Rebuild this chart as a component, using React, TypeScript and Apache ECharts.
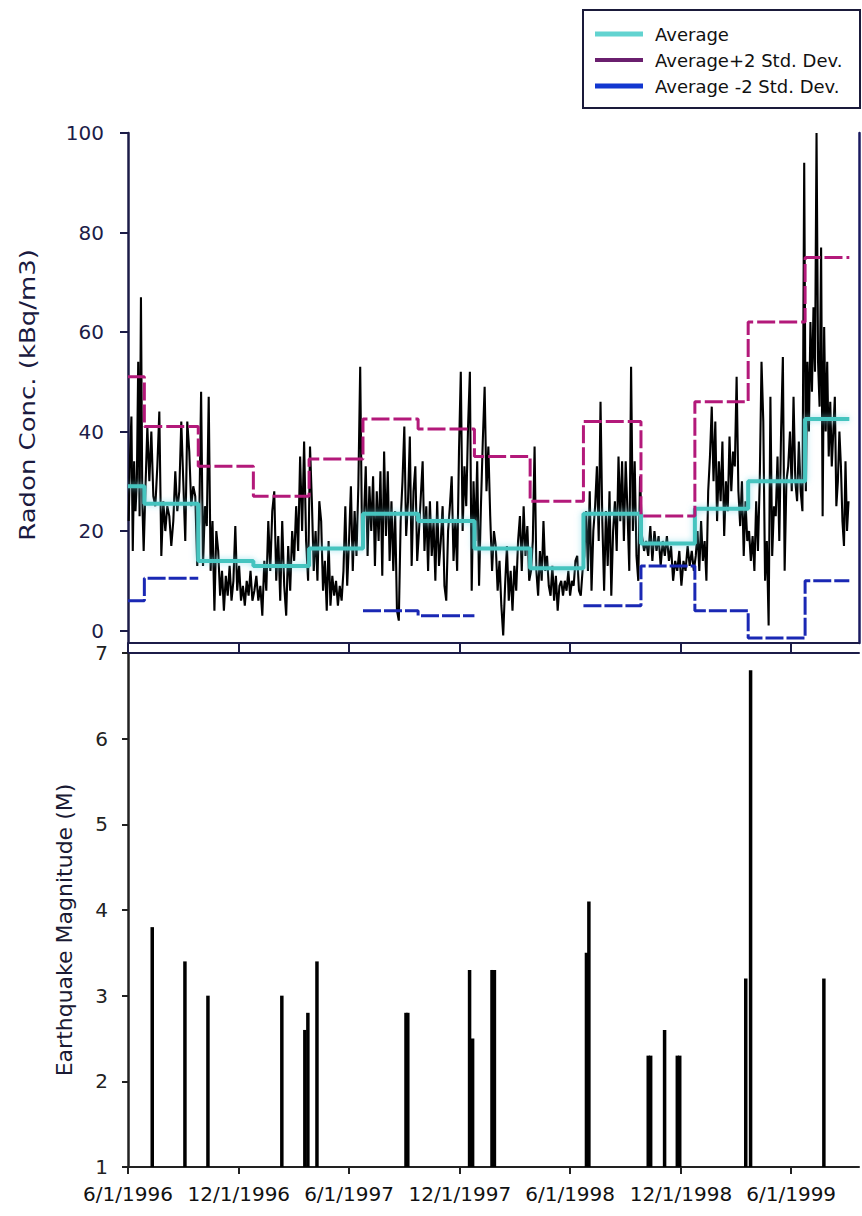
import React, { useEffect, useRef } from "react";
import * as echarts from "echarts";

// ---------- data ----------
// season segment boundaries (start dates) and final end date
const segStarts = [
  "1996-06-01", "1996-06-28", "1996-09-25", "1996-12-25", "1997-03-27", "1997-06-24", "1997-09-23",
  "1997-12-25", "1998-03-27", "1998-06-23", "1998-09-26", "1998-12-24", "1999-03-22", "1999-06-24",
];
const segEnd = "1999-09-05";

const averageVals = [29, 25.5, 14, 13, 16.5, 23.5, 22, 16.5, 12.5, 23.5, 17.5, 24.5, 30, 42.5];
const plus2SdVals = [51, 41, 33, 27, 34.5, 42.5, 40.5, 35, 26, 42, 23, 46, 62, 75];
const minus2SdVals: (number | null)[] = [6, 10.5, null, null, null, 4, 3, null, null, 5, 13, 4, -1.5, 10];

// radon concentration readings, one list per segment
const radonSeg1 = [22, 35, 43, 16, 34, 24, 30, 54, 23, 67, 26, 16];
const radonSeg2 = [28, 41, 30, 40, 27, 25, 33, 44, 15, 26, 20, 25, 23, 17, 22, 32, 24, 28, 42, 30, 18, 42, 36, 25, 29, 27, 13];
const radonSeg3 = [22, 48, 13, 25, 21, 47, 12, 22, 4, 20, 16, 7, 12, 4, 11, 7, 13, 6, 10, 21, 8, 13, 6, 9, 5, 10, 7, 12, 6];
const radonSeg4 = [8, 11, 6, 9, 3, 14, 8, 22, 12, 24, 28, 10, 19, 6, 22, 9, 3, 17, 8, 20, 14, 25, 16, 35, 20, 38, 18, 10];
const radonSeg5 = [37, 26, 12, 20, 10, 26, 22, 8, 14, 4, 18, 5, 11, 7, 10, 5, 9, 6, 12, 25, 9, 18, 29, 12, 24, 15, 29, 53, 18];
const radonSeg6 = [22, 33, 15, 29, 20, 31, 13, 28, 18, 32, 11, 36, 19, 32, 14, 26, 12, 24, 4, 2, 22, 30, 41, 19, 26, 39, 13, 28, 33, 14];
const radonSeg7 = [20, 27, 34, 16, 25, 12, 26, 15, 22, 10, 26, 13, 18, 25, 9, 6, 20, 25, 31, 14, 22, 12, 36, 52, 20, 33, 25, 41, 52, 8, 30];
const radonSeg8 = [18, 34, 9, 25, 38, 49, 28, 37, 23, 12, 20, 17, 8, 14, 5, -1, 9, 17, 6, 12, 4, 13, 8, 18, 23, 12, 25, 15, 21, 10];
const radonSeg9 = [12, 18, 37, 12, 7, 16, 10, 22, 12, 15, 9, 7, 13, 6, 11, 4, 9, 10, 7, 10, 8, 12, 7, 10, 9, 14, 15, 8, 7, 12];
const radonSeg10 = [15, 24, 12, 28, 8, 20, 25, 33, 18, 46, 22, 8, 24, 13, 28, 7, 20, 26, 16, 35, 22, 34, 18, 34, 24, 12, 53, 20, 34, 15, 10, 31];
const radonSeg11 = [19, 16, 18, 15, 21, 14, 20, 16, 19, 13, 18, 15, 19, 14, 17, 10, 14, 12, 16, 9, 14, 12, 17, 13, 16, 12];
const radonSeg12 = [15, 20, 12, 22, 14, 18, 10, 28, 35, 45, 30, 42, 22, 34, 26, 38, 19, 30, 24, 39, 28, 36, 33, 51, 28, 21, 30, 15, 26, 18];
const radonSeg13 = [20, 14, 19, 12, 26, 16, 30, 54, 42, 10, 18, 1, 47, 15, 25, 23, 35, 18, 40, 55, 12, 30, 33, 40, 28, 47, 30, 26, 38, 28, 24, 94];
const radonSeg14 = [28, 54, 40, 62, 48, 65, 52, 100, 54, 45, 77, 23, 61, 40, 54, 35, 46, 33, 40, 47, 25, 30, 40, 33, 22, 17, 34, 20, 26];
const radonBySeg = [
  radonSeg1, radonSeg2, radonSeg3, radonSeg4, radonSeg5, radonSeg6, radonSeg7,
  radonSeg8, radonSeg9, radonSeg10, radonSeg11, radonSeg12, radonSeg13, radonSeg14,
];

// earthquakes
const quakeDates = [
  "1996-07-11", "1996-09-03", "1996-10-11", "1997-02-10", "1997-03-20", "1997-03-25", "1997-04-09",
  "1997-09-03", "1997-09-06", "1997-12-17", "1997-12-22", "1998-01-23", "1998-01-27", "1998-06-28",
  "1998-07-02", "1998-10-08", "1998-10-12", "1998-11-04", "1998-11-25", "1998-11-29", "1999-03-18",
  "1999-03-26", "1999-07-25",
];
const quakeMagnitudes = [3.8, 3.4, 3.0, 3.0, 2.6, 2.8, 3.4, 2.8, 2.8, 3.3, 2.5, 3.3, 3.3, 3.5, 4.1, 2.3, 2.3, 2.6, 2.3, 2.3, 3.2, 6.8, 3.2];

const xTickDates = ["1996-06-01", "1996-12-01", "1997-06-01", "1997-12-01", "1998-06-01", "1998-12-01", "1999-06-01"];
const xMinDate = "1996-06-01";
const xMaxDate = "1999-09-21";
const radonTicks = [0, 20, 40, 60, 80, 100];

// ---------- helpers ----------
const t = (s: string) => {
  const [y, m, d] = s.split("-").map(Number);
  return Date.UTC(y, m - 1, d);
};
const fmtDate = (v: number) => {
  const d = new Date(v);
  return `${d.getUTCMonth() + 1}/${d.getUTCDate()}/${d.getUTCFullYear()}`;
};
const segBounds = segStarts.map((s, i) => [t(s), t(i + 1 < segStarts.length ? segStarts[i + 1] : segEnd)]);

const stepData = (vals: (number | null)[]) => {
  const out: any[] = [];
  vals.forEach((v, i) => {
    const [a, b] = segBounds[i];
    if (v === null) {
      out.push([a, "-"]);
    } else {
      out.push([a, v]);
      out.push([b, v]);
    }
  });
  return out;
};

const radonData: any[] = [];
radonBySeg.forEach((vals, i) => {
  const [a, b] = segBounds[i];
  const n = vals.length;
  vals.forEach((v, k) => radonData.push([a + ((k + 0.5) * (b - a)) / n, v]));
});

const quakeData = quakeDates.map((d, i) => [t(d), quakeMagnitudes[i]]);

const FONT = "DejaVu Sans";
const NAVY = "#1c1c48";

export default function App() {
  const ref = useRef<HTMLDivElement>(null);
  useEffect(() => {
    if (!ref.current) return;
    const chart = echarts.init(ref.current, null, { renderer: "svg" });
    const xCommon = {
      type: "value" as const,
      min: t(xMinDate),
      max: t(xMaxDate),
      splitLine: { show: false },
    };
    const tickVals = xTickDates.map(t);
    chart.setOption({
      animation: false,
      backgroundColor: "#ffffff",
      grid: [
        { left: 128, top: 133, width: 731, height: 510 },
        { left: 128, top: 653, width: 731, height: 514 },
      ],
      xAxis: [
        {
          ...xCommon,
          gridIndex: 0,
          position: "bottom",
          axisLine: { show: true, onZero: false, lineStyle: { color: NAVY, width: 2 } },
          axisTick: { show: true, customValues: tickVals, length: 10, lineStyle: { color: NAVY, width: 2 } },
          axisLabel: { show: false },
        },
        {
          ...xCommon,
          gridIndex: 1,
          position: "bottom",
          axisLine: { show: true, onZero: false, lineStyle: { color: "#222", width: 2 } },
          axisTick: { show: true, customValues: tickVals, length: 7, lineStyle: { color: "#222", width: 2 } },
          axisLabel: {
            show: true,
            customValues: tickVals,
            formatter: (v: number) => fmtDate(v),
            fontFamily: FONT,
            fontSize: 20,
            color: "#111",
            margin: 17,
          },
        },
        {
          ...xCommon,
          gridIndex: 1,
          position: "top",
          axisLine: { show: true, onZero: false, lineStyle: { color: NAVY, width: 2 } },
          axisTick: { show: false },
          axisLabel: { show: false },
        },
      ],
      yAxis: [
        {
          type: "value",
          gridIndex: 0,
          min: -2.5,
          max: 100,
          position: "left",
          splitLine: { show: false },
          axisLine: { show: true, onZero: false, lineStyle: { color: NAVY, width: 2.5 } },
          axisTick: { show: true, customValues: radonTicks, length: 8, lineStyle: { color: NAVY, width: 2 } },
          axisLabel: { customValues: radonTicks, fontFamily: FONT, fontSize: 20, color: NAVY, margin: 24 },
        },
        {
          type: "value",
          gridIndex: 0,
          min: -2.5,
          max: 100,
          position: "right",
          splitLine: { show: false },
          axisLine: { show: true, onZero: false, lineStyle: { color: "#1a1a60", width: 2.5 } },
          axisTick: { show: false },
          axisLabel: { show: false },
        },
        {
          type: "value",
          gridIndex: 1,
          min: 1,
          max: 7,
          interval: 1,
          position: "left",
          splitLine: { show: false },
          axisLine: { show: true, onZero: false, lineStyle: { color: "#222", width: 2.5 } },
          axisTick: { show: true, length: 6, lineStyle: { color: "#222", width: 2 } },
          axisLabel: { fontFamily: FONT, fontSize: 20, color: "#222", margin: 20 },
        },
      ],
      series: [
        {
          name: "Radon",
          type: "line",
          xAxisIndex: 0,
          yAxisIndex: 0,
          data: radonData,
          showSymbol: false,
          symbol: "none",
          lineStyle: { color: "#000", width: 2.1 },
          clip: true,
        },
        {
          name: "Average",
          type: "line",
          xAxisIndex: 0,
          yAxisIndex: 0,
          data: stepData(averageVals),
          symbol: "none",
          connectNulls: false,
          lineStyle: { color: "#45c4bf", width: 4, shadowBlur: 6, shadowColor: "rgba(120,215,230,0.7)" },
          clip: true,
        },
        {
          name: "Average+2 Std. Dev.",
          type: "line",
          xAxisIndex: 0,
          yAxisIndex: 0,
          data: stepData(plus2SdVals),
          symbol: "none",
          lineStyle: { color: "#b3197a", width: 3, type: [18, 4] },
          clip: true,
        },
        {
          name: "Average -2 Std. Dev.",
          type: "line",
          xAxisIndex: 0,
          yAxisIndex: 0,
          data: stepData(minus2SdVals),
          symbol: "none",
          connectNulls: false,
          lineStyle: { color: "#1a28b4", width: 3, type: [18, 3] },
          clip: true,
        },
        {
          name: "Earthquake",
          type: "bar",
          xAxisIndex: 1,
          yAxisIndex: 2,
          data: quakeData,
          barWidth: 3.5,
          itemStyle: { color: "#000" },
          clip: true,
        },
      ],
      graphic: [
        {
          type: "rect",
          shape: { x: 583, y: 10, width: 277, height: 98 },
          style: { fill: "#fff", stroke: "#1a1a3a", lineWidth: 2 },
          z: 10,
        },
        { type: "line", shape: { x1: 595, y1: 34, x2: 643, y2: 34 }, style: { stroke: "#62d3d0", lineWidth: 5 }, z: 11 },
        { type: "line", shape: { x1: 595, y1: 60, x2: 643, y2: 60 }, style: { stroke: "#6a1f6e", lineWidth: 4 }, z: 11 },
        { type: "line", shape: { x1: 595, y1: 86, x2: 643, y2: 86 }, style: { stroke: "#1237d0", lineWidth: 5 }, z: 11 },
        {
          type: "text", x: 655, y: 34, z: 11,
          style: { text: "Average", font: `18px "${FONT}"`, fill: "#111", verticalAlign: "middle", textVerticalAlign: "middle" },
        },
        {
          type: "text", x: 655, y: 60, z: 11,
          style: { text: "Average+2 Std. Dev.", font: `18px "${FONT}"`, fill: "#111", verticalAlign: "middle", textVerticalAlign: "middle" },
        },
        {
          type: "text", x: 655, y: 86, z: 11,
          style: { text: "Average -2 Std. Dev.", font: `18px "${FONT}"`, fill: "#111", verticalAlign: "middle", textVerticalAlign: "middle" },
        },
        {
          type: "text", x: 28, y: 395, rotation: Math.PI / 2, scaleX: 1.18,
          style: {
            text: "Radon Conc. (kBq/m3)", font: `22px "${FONT}"`, fill: "#1a1a40",
            align: "center", verticalAlign: "middle", textAlign: "center", textVerticalAlign: "middle",
          },
        },
        {
          type: "text", x: 64, y: 930, rotation: Math.PI / 2,
          style: {
            text: "Earthquake Magnitude (M)", font: `22px "${FONT}"`, fill: "#1a1a33",
            align: "center", verticalAlign: "middle", textAlign: "center", textVerticalAlign: "middle",
          },
        },
      ],
    });
    return () => chart.dispose();
  }, []);
  return (
    <div
      ref={ref}
      style={{ position: "absolute", left: 0, top: 0, width: 862, height: 1216, background: "#fff" }}
    />
  );
}
